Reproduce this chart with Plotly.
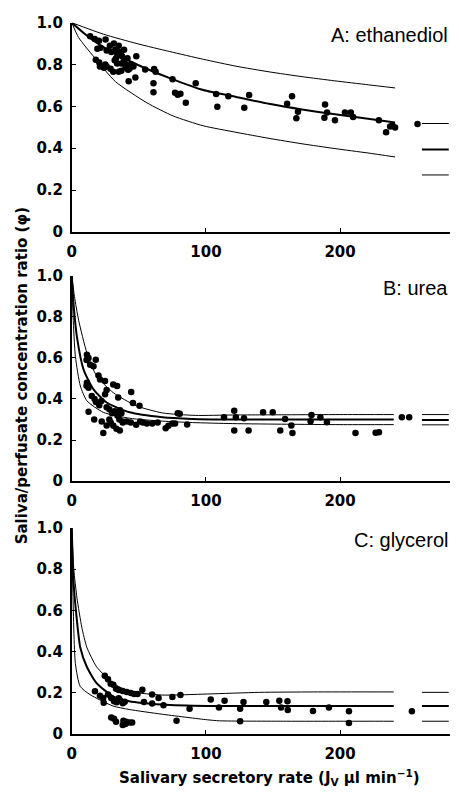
import plotly.graph_objects as go

# ---------------- DATA ----------------
panel_labels = ["A: ethanediol", "B: urea", "C: glycerol"]
x_tick_vals = [0, 100, 200]
x_tick_text = ["0", "100", "200"]
y_tick_vals = [0, 0.2, 0.4, 0.6, 0.8, 1.0]
y_tick_text = ["0", "0.2", "0.4", "0.6", "0.8", "1.0"]

# Panel A: ethanediol observed points
a_x = [13.7, 17.1, 20.3, 25.2, 19.1, 21.5, 26, 28.4, 29.5, 31.4, 32.5, 34, 33, 32, 35, 36, 37.5, 39,
       33.8, 37, 39, 40.5, 41.5, 43, 42, 40, 44.5, 46, 36.5, 48.1, 54.7, 61.4, 62.5, 60.9, 60.9, 75.1,
       77, 79, 81, 85, 92.4,
       17.9, 20.5, 21, 24, 26, 28.9, 30.9, 35, 42.4, 47.4, 25, 37,
       107.6, 108.5, 116.7, 128.6, 132.2, 160.5, 164.2, 167.4, 168.6, 188.8, 188.3, 190.3, 196.2,
       203.6, 208, 209.7, 228.9, 234.3, 237.3, 241, 239, 257.7]
a_y = [0.935, 0.922, 0.914, 0.920, 0.875, 0.88, 0.867, 0.89, 0.86, 0.90, 0.87, 0.85, 0.83, 0.82, 0.89, 0.86, 0.84, 0.87,
       0.805, 0.805, 0.82, 0.80, 0.83, 0.78, 0.775, 0.785, 0.80, 0.79, 0.855, 0.839, 0.776, 0.778, 0.765, 0.71, 0.667, 0.729,
       0.665, 0.655, 0.66, 0.617, 0.71,
       0.823, 0.81, 0.79, 0.785, 0.79, 0.78, 0.765, 0.765, 0.72, 0.738, 0.80, 0.77,
       0.659, 0.598, 0.648, 0.593, 0.654, 0.612, 0.648, 0.543, 0.574, 0.609, 0.546, 0.57, 0.534,
       0.57, 0.57, 0.549, 0.534, 0.476, 0.504, 0.499, 0.51, 0.515]

a_up_x = [0, 23.6, 48.6, 73, 98, 122.4, 147, 171.6, 196, 221, 241]
a_up_y = [1.0, 0.945, 0.90, 0.862, 0.825, 0.792, 0.765, 0.742, 0.722, 0.703, 0.688]
a_mid_x = [0, 10, 23.6, 48.6, 73, 98, 122.4, 147, 171.6, 196.2, 220.8, 241]
a_mid_y = [1.0, 0.945, 0.883, 0.80, 0.735, 0.678, 0.645, 0.612, 0.585, 0.562, 0.541, 0.523]
a_low_x = [0, 5, 16.6, 32.6, 56, 75.6, 98, 122.4, 147, 171.6, 196.2, 220.8, 241]
a_low_y = [1.0, 0.93, 0.836, 0.718, 0.617, 0.554, 0.507, 0.476, 0.447, 0.421, 0.398, 0.377, 0.358]
a_asym = [0.518, 0.394, 0.272]

# Panel B: urea observed points
b_x = [11.3, 12.5, 11, 13.7, 16.2, 17.9, 11.3, 12.5, 11, 19.9, 21.1, 24.8, 26, 30.9, 33.8, 34.6, 44.3,
       45.6, 50.5, 14.9, 17, 18, 20.5, 22, 24.8, 26, 28, 30, 32, 34, 36, 37, 35.5, 38, 12.5, 16.7,
       22.3, 23.5, 26, 28, 29, 31, 33.3, 35.8, 38, 41, 44, 48, 51, 53, 56, 60, 64, 70, 72, 75, 77,
       79, 80.5, 86,
       113.5, 121.1, 122.3, 128.4, 121.1, 131.8, 142.6, 149.8, 155.4, 159, 163.7, 164.5, 178.7, 178,
       185.3, 190.2, 211.5, 226.5, 229, 246, 251.5]
b_y = [0.615, 0.60, 0.59, 0.567, 0.559, 0.591, 0.479, 0.455, 0.465, 0.514, 0.495, 0.487, 0.444, 0.471, 0.463, 0.407, 0.434,
       0.38, 0.367, 0.415, 0.40, 0.385, 0.37, 0.39, 0.423, 0.36, 0.35, 0.33, 0.34, 0.32, 0.345, 0.33, 0.30, 0.29, 0.338, 0.30,
       0.29, 0.234, 0.271, 0.30, 0.285, 0.27, 0.255, 0.247, 0.285, 0.29, 0.285, 0.274, 0.29, 0.285, 0.28, 0.28, 0.285, 0.258, 0.27, 0.28, 0.28,
       0.33, 0.328, 0.276,
       0.311, 0.343, 0.311, 0.306, 0.247, 0.247, 0.335, 0.335, 0.247, 0.303, 0.271, 0.234, 0.322, 0.292,
       0.311, 0.287, 0.234, 0.235, 0.238, 0.311, 0.311]

b_up_x = [0, 2, 5.1, 11.3, 18.6, 30.9, 48, 67.6, 92, 120, 160, 200, 240]
b_up_y = [1.0, 0.9, 0.784, 0.624, 0.511, 0.431, 0.367, 0.332, 0.32, 0.322, 0.323, 0.324, 0.324]
b_mid_x = [0, 1.5, 3.9, 8.8, 16.2, 26, 43.1, 67.6, 90, 120, 160, 200, 240]
b_mid_y = [1.0, 0.85, 0.70, 0.543, 0.447, 0.383, 0.335, 0.311, 0.303, 0.30, 0.30, 0.30, 0.30]
b_low_x = [0, 1, 2.7, 6.4, 11.3, 23.5, 43.1, 67.6, 90, 120, 160, 200, 240]
b_low_y = [1.0, 0.8, 0.607, 0.463, 0.391, 0.335, 0.306, 0.292, 0.285, 0.28, 0.277, 0.275, 0.275]
b_asym = [0.324, 0.298, 0.274]

# Panel C: glycerol observed points
c_x = [24.6, 27, 29, 31, 33, 35, 38, 41, 17.3, 21, 23.4, 23.8, 27, 29.4, 31.5, 33.5, 36, 38, 39.5, 35,
       44, 46.5, 49, 52.6, 53.8, 59.9, 59.9, 64.7, 68.4, 75, 81, 87.8, 78.1,
       29.4, 31.5, 33, 38.5, 40.5, 43, 45, 40, 38,
       103.6, 109.7, 113.9, 125.5, 125.5, 128, 145, 154.7, 156, 160.8, 161, 179.8, 191.7, 206.6,
       206.6, 253.5]
c_y = [0.284, 0.267, 0.245, 0.24, 0.22, 0.215, 0.21, 0.205, 0.208, 0.187, 0.176, 0.152, 0.192, 0.176, 0.16, 0.155, 0.165, 0.15, 0.158, 0.175,
       0.20, 0.195, 0.195, 0.216, 0.156, 0.192, 0.149, 0.176, 0.14, 0.18, 0.19, 0.124, 0.065,
       0.081, 0.075, 0.06, 0.065, 0.06, 0.057, 0.057, 0.05, 0.045,
       0.168, 0.129, 0.162, 0.124, 0.063, 0.156, 0.156, 0.162, 0.129, 0.160, 0.118, 0.113, 0.129, 0.111,
       0.054, 0.111]

c_up_x = [0, 1.5, 3.9, 7.5, 11.2, 18.5, 30.7, 42.8, 67.2, 101, 140, 180, 240]
c_up_y = [1.0, 0.8, 0.66, 0.518, 0.422, 0.327, 0.248, 0.208, 0.19, 0.195, 0.203, 0.205, 0.205]
c_mid_x = [0, 1.2, 3.4, 6.3, 11.2, 18.5, 30.7, 42.8, 67.2, 101, 140, 180, 240]
c_mid_y = [1.0, 0.75, 0.58, 0.422, 0.327, 0.248, 0.184, 0.16, 0.144, 0.137, 0.137, 0.137, 0.137]
c_low_x = [0, 0.8, 2.7, 6.3, 13.6, 30.7, 42.8, 67.2, 101, 110, 160, 200, 240]
c_low_y = [1.0, 0.7, 0.343, 0.232, 0.192, 0.137, 0.12, 0.097, 0.07, 0.065, 0.063, 0.063, 0.063]
c_asym = [0.203, 0.137, 0.063]

asym_x = [261, 281]

# ---------------- FIGURE ----------------
W, H = 459, 796
fig = go.Figure()

panels = [
    (a_x, a_y, [(a_up_x, a_up_y), (a_mid_x, a_mid_y), (a_low_x, a_low_y)], a_asym),
    (b_x, b_y, [(b_up_x, b_up_y), (b_mid_x, b_mid_y), (b_low_x, b_low_y)], b_asym),
    (c_x, c_y, [(c_up_x, c_up_y), (c_mid_x, c_mid_y), (c_low_x, c_low_y)], c_asym),
]
# pixel extents (top, bottom) of each panel's y-axis
panel_px = [(14, 228), (273, 483), (531, 742)]
x_left_px, x_right_px = 67.5, 450

tick_font = dict(family="DejaVu Sans", size=15, color="black", weight="bold")
line_widths = [1, 2, 1]

for i, (px_, py_, curves, asym) in enumerate(panels):
    n = "" if i == 0 else str(i + 1)
    xa, ya = "x" + n, "y" + n
    for (cx, cy), lw in zip(curves, line_widths):
        fig.add_trace(go.Scatter(x=cx, y=cy, xaxis=xa, yaxis=ya, mode="lines",
                                 line=dict(color="black", width=lw, shape="spline", smoothing=0.6),
                                 hoverinfo="skip", showlegend=False))
    for lev, lw in zip(asym, line_widths):
        fig.add_trace(go.Scatter(x=asym_x, y=[lev, lev], xaxis=xa, yaxis=ya, mode="lines",
                                 line=dict(color="black", width=lw),
                                 hoverinfo="skip", showlegend=False))
    fig.add_trace(go.Scatter(x=px_, y=py_, xaxis=xa, yaxis=ya, mode="markers",
                             marker=dict(color="black", size=6.5),
                             showlegend=False, cliponaxis=False))
    top, bot = panel_px[i]
    fig.update_layout(**{
        "xaxis" + n: dict(domain=[x_left_px / W, x_right_px / W], range=[0, 282],
                          anchor=ya, showline=True, linecolor="black", linewidth=1.5,
                          ticks="inside", ticklen=4, tickcolor="black",
                          tickvals=x_tick_vals, ticktext=x_tick_text, tickfont=tick_font,
                          ticklabelstandoff=5,
                          showgrid=False, zeroline=False, fixedrange=True),
        "yaxis" + n: dict(domain=[1 - bot / H, 1 - top / H], range=[0, 1.0],
                          anchor=xa, showline=True, linecolor="black", linewidth=1.5,
                          ticks="inside", ticklen=4, tickcolor="black",
                          tickvals=y_tick_vals, ticktext=y_tick_text, tickfont=tick_font,
                          ticklabelstandoff=4,
                          showgrid=False, zeroline=False, fixedrange=True),
    })
    fig.add_annotation(text=panel_labels[i], xref="paper", yref="paper",
                       x=x_right_px / W, y=1 - (top - 1) / H, xanchor="right", yanchor="top",
                       showarrow=False, font=dict(family="Arial", size=20, color="black"))

fig.add_annotation(text="Saliva/perfusate concentration ratio (\u03c6)", xref="paper", yref="paper",
                   x=17 / W, y=1 - 375 / H, xanchor="center", yanchor="middle", textangle=-90,
                   showarrow=False, font=dict(family="DejaVu Sans", size=15, color="black", weight="bold"))
fig.add_annotation(text="Salivary secretory rate (J<sub>V</sub> \u00b5l min<sup>\u22121</sup>)",
                   xref="paper", yref="paper", x=267 / W, y=1 - 786 / H,
                   xanchor="center", yanchor="middle",
                   showarrow=False, font=dict(family="DejaVu Sans", size=15, color="black", weight="bold"))

fig.update_layout(width=W, height=H, margin=dict(l=0, r=0, t=0, b=0),
                  paper_bgcolor="white", plot_bgcolor="white", showlegend=False)

fig.write_html("out.html", config={"displayModeBar": False},
               post_script="document.body.style.margin='0px';document.body.style.padding='0px';")
